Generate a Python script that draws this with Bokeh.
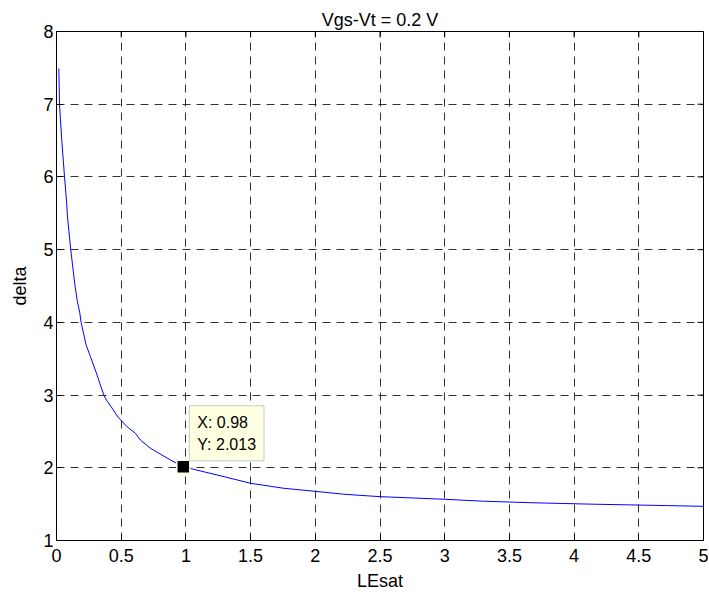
from bokeh.plotting import figure
from bokeh.models import Range1d, FixedTicker, Label
from bokeh.embed import file_html
from bokeh.resources import INLINE

# ---- data ----
lesat = [0.018, 0.023, 0.041, 0.062, 0.077, 0.085, 0.11, 0.126, 0.141, 0.16, 0.18,
         0.19, 0.229, 0.262, 0.309, 0.335, 0.366, 0.386, 0.422, 0.474, 0.545,
         0.61, 0.648, 0.726, 0.881, 0.98, 1.242, 1.5, 1.757, 2.0, 2.22, 2.5,
         3.0, 3.3, 3.66, 4.13, 4.72, 5.0]
delta = [7.49, 7.0, 6.5, 6.0, 5.68, 5.45, 5.0, 4.76, 4.53, 4.3, 4.13,
         4.0, 3.69, 3.53, 3.3, 3.16, 3.0, 2.93, 2.84, 2.70, 2.565,
         2.474, 2.382, 2.268, 2.107, 2.013, 1.901, 1.787, 1.718, 1.676, 1.636, 1.603,
         1.567, 1.54, 1.52, 1.50, 1.48, 1.47]
tip_x = [0.98]
tip_y = [2.013]
x_ticks = [0, 0.5, 1, 1.5, 2, 2.5, 3, 3.5, 4, 4.5, 5]
x_tick_labels = ["0", "0.5", "1", "1.5", "2", "2.5", "3", "3.5", "4", "4.5", "5"]
y_ticks = [1, 2, 3, 4, 5, 6, 7, 8]
y_tick_labels = ["1", "2", "3", "4", "5", "6", "7", "8"]
title_text = "Vgs-Vt = 0.2 V"
x_label = "LEsat"
y_label = "delta"

FONT = "Liberation Sans"

p = figure(width=708, height=595, output_backend="svg", toolbar_location=None,
           x_range=Range1d(x_ticks[0], x_ticks[-1]),
           y_range=Range1d(y_ticks[0], y_ticks[-1]),
           min_border_left=56, min_border_right=5, min_border_top=31,
           min_border_bottom=55, title=title_text)
p.background_fill_color = "white"
p.border_fill_color = "white"
p.outline_line_color = "black"
p.outline_line_width = 1

p.title.align = "center"
p.title.vertical_align = "top"
p.title.text_font = FONT
p.title.text_font_size = "18px"
p.title.text_font_style = "normal"
p.title.text_color = "black"
p.title.standoff = 0
p.title.offset = 0

xa = p.xaxis[0]
ya = p.yaxis[0]
xa.ticker = FixedTicker(ticks=x_ticks)
ya.ticker = FixedTicker(ticks=y_ticks)
xa.major_label_overrides = {t: l for t, l in zip(x_ticks, x_tick_labels)}
ya.major_label_overrides = {t: l for t, l in zip(y_ticks, y_tick_labels)}
for ax in (xa, ya):
    ax.axis_line_color = "black"
    ax.axis_line_width = 1
    ax.major_tick_in = 6
    ax.major_tick_out = 0
    ax.minor_tick_line_color = None
    ax.major_tick_line_color = "black"
    ax.major_label_text_font = FONT
    ax.major_label_text_color = "black"
    ax.major_label_text_font_size = "18px"
    ax.axis_label_text_font = FONT
    ax.axis_label_text_font_size = "18px"
    ax.axis_label_text_font_style = "normal"
    ax.axis_label_text_color = "black"
xa.major_label_standoff = 8
ya.major_label_standoff = 3
xa.axis_label = x_label
ya.axis_label = y_label
xa.axis_label_standoff = 6
ya.axis_label_standoff = 10

for g, t in ((p.xgrid[0], x_ticks), (p.ygrid[0], y_ticks)):
    g.ticker = FixedTicker(ticks=t)
    g.grid_line_color = "black"
    g.grid_line_alpha = 0.8
    g.grid_line_width = 1
    g.grid_line_dash = "8 6"

# tick marks on the top and right edges of the box
p.ray(x=x_ticks, y=[y_ticks[-1]] * len(x_ticks), length=6, length_units="screen",
      angle=-90, angle_units="deg", line_color="black", line_width=1)
p.ray(x=[x_ticks[-1]] * len(y_ticks), y=y_ticks, length=6, length_units="screen",
      angle=180, angle_units="deg", line_color="black", line_width=1)

p.line(lesat, delta, line_color="#0000FF", line_width=1)

p.scatter(tip_x, tip_y, marker="square", size=13, fill_color="black",
          line_color="#FFFFE0", line_width=1.5)

tip = Label(x=tip_x[0], y=tip_y[0], x_offset=6, y_offset=6,
            text="X: %g\nY: %g" % (tip_x[0], tip_y[0]),
            text_font=FONT, text_font_size="16px", text_color="black",
            text_align="left", text_baseline="bottom", text_line_height=1.3,
            background_fill_color="#FFFFE1", border_line_color="#C8C8C8",
            border_line_width=1, padding=8)
p.add_layout(tip)

open("out.html", "w").write(file_html(p, INLINE))
